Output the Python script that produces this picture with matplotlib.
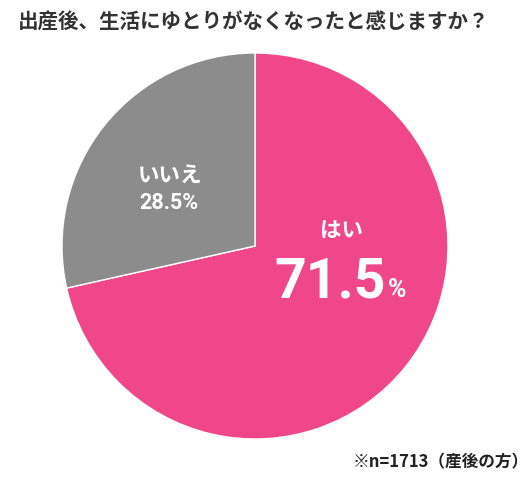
import matplotlib as mpl
mpl.use('Agg')
import matplotlib.pyplot as plt

# survey result: 出産後、生活にゆとりがなくなったと感じますか？
labels = ['はい', 'いいえ']
shares = [71.5, 28.5]
colors = ['#F0468A', '#8C8C8C']

jp = ['Noto Sans CJK JP', 'DejaVu Sans']
num = ['Roboto', 'Noto Sans CJK JP']

W, H = 530, 478
fig = plt.figure(figsize=(W / 100, H / 100), dpi=100)
fig.patch.set_facecolor('white')

# pie box in pixels: left 62, top 53, size 386
ax = fig.add_axes([62 / W, (H - 53 - 386) / H, 386 / W, 386 / H])
ax.pie(shares, colors=colors, startangle=90, counterclock=False,
       wedgeprops=dict(edgecolor='white', linewidth=1))
ax.set_xlim(-1, 1)
ax.set_ylim(-1, 1)
ax.axis('off')

fig.text(18 / W, 1 - 22 / H, '出産後、生活にゆとりがなくなったと感じますか？',
         family=jp, fontweight='bold', fontsize=14.8, color='#333333',
         ha='left', va='center')

# gray slice labels
fig.text(170 / W, 1 - 175 / H, labels[1], family=jp, fontweight='bold',
         fontsize=15.5, color='white', ha='center', va='center')
fig.text(169 / W, 1 - 203 / H, '%.1f%%' % shares[1], family=num, fontweight='bold',
         fontsize=15.5, color='white', ha='center', va='center')

# pink slice labels
fig.text(341 / W, 1 - 230 / H, labels[0], family=jp, fontweight='bold',
         fontsize=15.5, color='white', ha='center', va='center')
fig.text(386 / W, 1 - 297 / H, '%.1f' % shares[0], family=num, fontweight='bold',
         fontsize=40, color='white', ha='right', va='baseline')
fig.text(388 / W, 1 - 297 / H, '%', family=num, fontweight='bold',
         fontsize=18, color='white', ha='left', va='baseline')

fig.text(529 / W, 1 - 462 / H, '※n=1713（産後の方）', family=jp,
         fontweight='bold', fontsize=12, color='#222222', ha='right', va='center')

plt.savefig('out.png', dpi=100)
